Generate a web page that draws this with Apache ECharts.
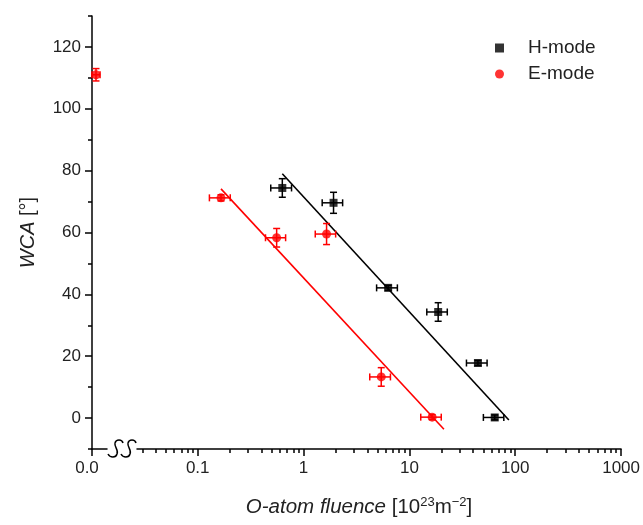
<!DOCTYPE html>
<html>
<head>
<meta charset="utf-8">
<script src="https://cdn.jsdelivr.net/npm/echarts@6/dist/echarts.min.js"></script>
<style>
  html, body { margin: 0; padding: 0; background: #fff; }
  #chart { width: 643px; height: 525px; }
</style>
</head>
<body>
<div id="chart"></div>
<script>
// H-mode discharge: O-atom fluence [1e23 m^-2] and water contact angle [deg]
const hFluence    = [0.63, 1.92, 6.3, 18.7, 44.4, 64];
const hFluenceErr = [0.14, 0.42, 1.4, 4.1, 9.8, 14];
const hWCA        = [74.4, 69.6, 42.1, 34.3, 17.8, 0.2];
const hWCAErr     = [3, 3.4, 0.8, 3, 0.8, 0.8];

// E-mode discharge
const eFluence    = [0.166, 0.557, 1.65, 5.42, 16.4];
const eFluenceErr = [0.037, 0.12, 0.36, 1.2, 3.6];
const eWCA        = [71.2, 58.3, 59.5, 13.3, 0.3];
const eWCAErr     = [1, 3, 3.4, 3, 0.8];

// untreated sample (zero fluence), shown left of the axis break
const untreatedFluence    = [0];
const untreatedFluenceErr = [0.27];
const untreatedWCA        = [111];
const untreatedWCAErr     = [2];

// linear fits of WCA against log10(fluence)
const hFitFluence = [0.63, 87];
const hFitWCA     = [79, -0.6];
const eFitFluence = [0.166, 21.2];
const eFitWCA     = [74.1, -3.6];

// axis ticks
const yTicks      = [0, 20, 40, 60, 80, 100, 120];
const yMinorTicks = [-10, 10, 30, 50, 70, 90, 110, 130];
const xTicks      = [0.1, 1, 10, 100, 1000];
const xTickLabels = ['0.1', '1', '10', '100', '1000'];
const xMinorTicks = [
  0.03, 0.04, 0.05, 0.06, 0.07, 0.08, 0.09,
  0.2, 0.3, 0.4, 0.5, 0.6, 0.7, 0.8, 0.9,
  2, 3, 4, 5, 6, 7, 8, 9,
  20, 30, 40, 50, 60, 70, 80, 90,
  200, 300, 400, 500, 600, 700, 800, 900
];

const FONT = 'Liberation Sans, Arial, sans-serif';
const TXT = '#222';
const AXIS = { lineStyle: { color: '#000', width: 1.5 } };

function zip4(xs, ys, xe, ye) {
  return xs.map((x, i) => [x, ys[i], xe[i], ye[i]]);
}

// error bars with caps; dx shifts the whole bar horizontally (pixels)
function errorBars(color, dx) {
  return function (params, api) {
    const x = api.value(0), y = api.value(1), xe = api.value(2), ye = api.value(3);
    const c = api.coord([x, y]);
    const cx = c[0] + dx, cy = c[1];
    const xl = api.coord([x - xe, y])[0] + dx;
    const xr = api.coord([x + xe, y])[0] + dx;
    const yt = api.coord([x, y + ye])[1];
    const yb = api.coord([x, y - ye])[1];
    const cap = 3.5;
    const style = { stroke: color, lineWidth: 1.5, fill: null };
    const seg = (x1, y1, x2, y2) => ({ type: 'line', shape: { x1, y1, x2, y2 }, style });
    return {
      type: 'group',
      children: [
        seg(xl, cy, xr, cy), seg(xl, cy - cap, xl, cy + cap), seg(xr, cy - cap, xr, cy + cap),
        seg(cx, yt, cx, yb), seg(cx - cap, yt, cx + cap, yt), seg(cx - cap, yb, cx + cap, yb)
      ]
    };
  };
}

const logMin = 0.0267, logMax = 1000;

const option = {
  animation: false,
  backgroundColor: '#fff',
  textStyle: { fontFamily: FONT },
  grid: [
    { left: 92, width: 15, top: 16, bottom: 76 },
    { left: 137, right: 20, top: 16, bottom: 76 }
  ],
  legend: {
    orient: 'vertical',
    left: 490,
    top: 32,
    itemWidth: 9,
    itemHeight: 9,
    itemGap: 4,
    textStyle: { fontFamily: FONT, fontSize: 19, color: TXT, lineHeight: 22, padding: [0, 0, 0, 19] },
    data: [
      { name: 'H-mode', icon: 'rect' },
      { name: 'E-mode', icon: 'circle' }
    ]
  },
  xAxis: [
    {
      gridIndex: 0, type: 'value', min: 0, max: 1,
      axisLine: { onZero: false, ...AXIS },
      axisTick: { customValues: [0], length: 7, lineStyle: { color: '#000', width: 1.5 } },
      axisLabel: {
        customValues: [0], formatter: () => '0.0',
        fontSize: 17, color: TXT, margin: 11, padding: [0, 10, 0, 0]
      },
      splitLine: { show: false }
    },
    {
      gridIndex: 1, type: 'log', min: logMin, max: logMax, position: 'bottom',
      axisLine: { onZero: false, ...AXIS },
      axisTick: { customValues: xTicks, length: 7, lineStyle: { color: '#000', width: 1.5 } },
      axisLabel: {
        customValues: xTicks,
        formatter: (v) => {
          const i = xTicks.findIndex(t => Math.abs(Math.log10(t) - Math.log10(v)) < 1e-6);
          return i >= 0 ? xTickLabels[i] : '';
        },
        fontSize: 17, color: TXT, margin: 11
      },
      splitLine: { show: false },
      name: '{it|O-atom fluence} [10{sup|23}m{sup|\u22122}]',
      nameLocation: 'middle',
      nameGap: 47,
      nameTextStyle: {
        fontSize: 20.5, color: TXT, padding: [0, 40, 0, 0],
        rich: {
          it: { fontStyle: 'italic', fontSize: 20.5, color: TXT },
          sup: { fontSize: 13, color: TXT, verticalAlign: 'top', padding: [0, 0, 9, 0] }
        }
      }
    },
    {
      gridIndex: 1, type: 'log', min: logMin, max: logMax, position: 'bottom',
      axisLine: { show: false, onZero: false },
      axisTick: { customValues: xMinorTicks, length: 4, lineStyle: { color: '#000', width: 1.5 } },
      axisLabel: { show: false },
      splitLine: { show: false }
    }
  ],
  yAxis: [
    {
      gridIndex: 0, type: 'value', min: -10, max: 130, interval: 10,
      axisLine: { show: true, onZero: false, ...AXIS },
      axisTick: { customValues: yTicks, length: 7, lineStyle: { color: '#000', width: 1.5 } },
      axisLabel: { customValues: yTicks, fontSize: 17, color: TXT, margin: 11 },
      splitLine: { show: false },
      name: '{it|WCA} [°]',
      nameLocation: 'middle',
      nameGap: 54,
      nameRotate: 90,
      nameTextStyle: {
        fontSize: 20, color: TXT,
        rich: { it: { fontStyle: 'italic', fontSize: 20, color: TXT } }
      }
    },
    {
      gridIndex: 0, type: 'value', min: -10, max: 130, interval: 10, position: 'left',
      axisLine: { show: false, onZero: false },
      axisTick: { customValues: yMinorTicks, length: 4, lineStyle: { color: '#000', width: 1.5 } },
      axisLabel: { show: false },
      splitLine: { show: false }
    },
    {
      gridIndex: 1, type: 'value', min: -10, max: 130, interval: 10, show: false,
      splitLine: { show: false }
    }
  ],
  series: [
    {
      name: 'H-mode fit', type: 'line', xAxisIndex: 1, yAxisIndex: 2,
      data: hFitFluence.map((x, i) => [x, hFitWCA[i]]),
      showSymbol: false, lineStyle: { color: '#000', width: 1.6 }, z: 2
    },
    {
      name: 'E-mode fit', type: 'line', xAxisIndex: 1, yAxisIndex: 2,
      data: eFitFluence.map((x, i) => [x, eFitWCA[i]]),
      showSymbol: false, lineStyle: { color: '#ff0000', width: 1.6 }, z: 2
    },
    {
      name: 'H-mode error', type: 'custom', xAxisIndex: 1, yAxisIndex: 2,
      renderItem: errorBars('#000', 0), encode: { x: 0, y: 1 },
      data: zip4(hFluence, hWCA, hFluenceErr, hWCAErr), z: 3
    },
    {
      name: 'E-mode error', type: 'custom', xAxisIndex: 1, yAxisIndex: 2,
      renderItem: errorBars('#ff0000', 0), encode: { x: 0, y: 1 },
      data: zip4(eFluence, eWCA, eFluenceErr, eWCAErr), z: 3
    },
    {
      name: 'untreated error', type: 'custom', xAxisIndex: 0, yAxisIndex: 0,
      renderItem: errorBars('#ff0000', 4), encode: { x: 0, y: 1 },
      data: zip4(untreatedFluence, untreatedWCA, untreatedFluenceErr, untreatedWCAErr), z: 3
    },
    {
      name: 'H-mode', type: 'scatter', xAxisIndex: 1, yAxisIndex: 2,
      symbol: 'rect', symbolSize: 8, itemStyle: { color: '#000' },
      data: hFluence.map((x, i) => [x, hWCA[i]]), z: 4, clip: false
    },
    {
      name: 'E-mode', type: 'scatter', xAxisIndex: 1, yAxisIndex: 2,
      symbol: 'circle', symbolSize: 9, itemStyle: { color: '#ff0000' },
      data: eFluence.map((x, i) => [x, eWCA[i]]), z: 4, clip: false
    },
    {
      name: 'E-mode', type: 'scatter', xAxisIndex: 0, yAxisIndex: 0,
      symbol: 'circle', symbolSize: 9, symbolOffset: [4, 0], itemStyle: { color: '#ff0000' },
      data: untreatedFluence.map((x, i) => [x, untreatedWCA[i]]), z: 4, clip: false
    }
  ]
};

const chart = echarts.init(document.getElementById('chart'), null, { renderer: 'canvas' });
chart.setOption(option);

// axis-break mark: two slanted script-like S curves between the zero segment and the log segment
const axisY = chart.convertToPixel({ gridIndex: 0 }, [0, -10])[1];
const breakStyle = { stroke: '#000', lineWidth: 1.5, fill: null };
function curve(p0, c1, c2, p1) {
  return {
    type: 'bezierCurve',
    shape: { x1: p0[0], y1: p0[1], cpx1: c1[0], cpy1: c1[1], cpx2: c2[0], cpy2: c2[1], x2: p1[0], y2: p1[1] },
    style: breakStyle
  };
}
function breakS(cx) {
  const cy = axisY;
  return {
    type: 'group',
    z: 10,
    children: [
      curve([cx + 7, cy - 6], [cx + 6, cy - 10], [cx, cy - 10], [cx - 1, cy - 6]),
      curve([cx - 1, cy - 6], [cx - 2, cy - 2], [cx + 3, cy + 1], [cx + 1, cy + 5]),
      curve([cx + 1, cy + 5], [cx, cy + 9], [cx - 6, cy + 9], [cx - 8, cy + 5])
    ]
  };
}
chart.setOption({
  graphic: [breakS(116), breakS(129)]
});
</script>
</body>
</html>
